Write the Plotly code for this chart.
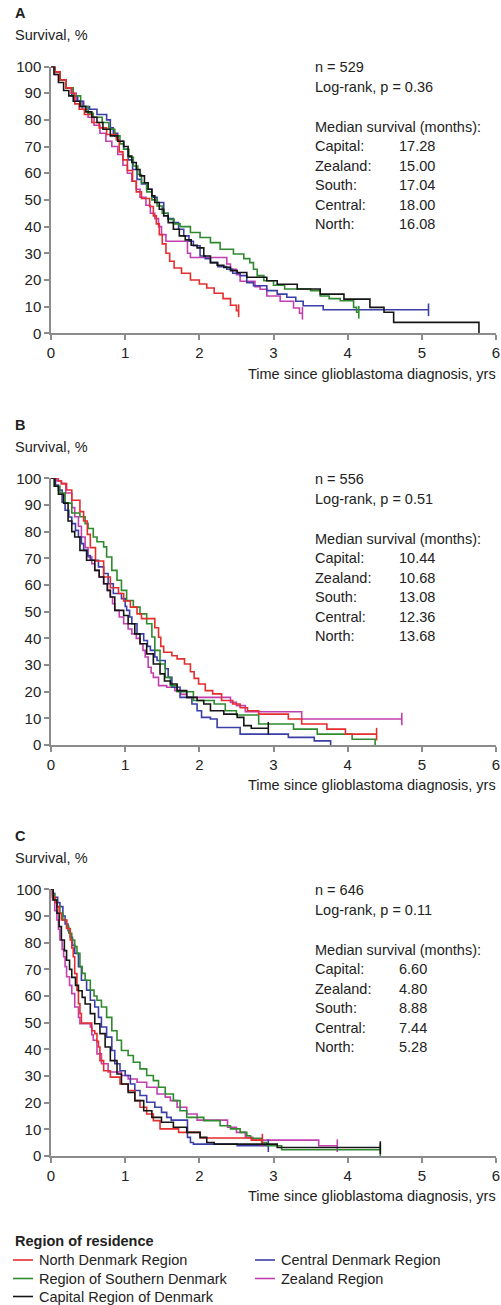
import plotly.graph_objects as go

# ---------------- data (times in years, survival in %) ----------------
REGIONS = ["North Denmark Region", "Region of Southern Denmark", "Capital Region of Denmark",
           "Central Denmark Region", "Zealand Region"]
PANELS = ["A", "B", "C"]
N_LABELS = ["n = 529", "n = 556", "n = 646"]
P_LABELS = ["Log-rank, p = 0.36", "Log-rank, p = 0.51", "Log-rank, p = 0.11"]
MEDIAN_NAMES = ["Capital:", "Zealand:", "South:", "Central:", "North:"]
MEDIAN_A = ["17.28", "15.00", "17.04", "18.00", "16.08"]
MEDIAN_B = ["10.44", "10.68", "13.08", "12.36", "13.68"]
MEDIAN_C = ["6.60", "4.80", "8.88", "7.44", "5.28"]
X_TICKS = [0, 1, 2, 3, 4, 5, 6]
Y_TICKS = [0, 10, 20, 30, 40, 50, 60, 70, 80, 90, 100]

# Panel A
A_NORTH_T = [0, 0.05, 0.12, 0.2, 0.28, 0.32, 0.38, 0.45, 0.55, 0.65, 0.75, 0.88, 0.92, 0.97, 1.03, 1.10, 1.15,
             1.22, 1.33, 1.38, 1.42, 1.46, 1.50, 1.55, 1.60, 1.66, 1.76, 1.88, 2.00, 2.10, 2.20, 2.32, 2.42, 2.50, 2.53]
A_NORTH_S = [100, 98, 95, 92, 90, 86, 84, 82, 79, 77, 74.5, 72.5, 68, 65, 61, 57, 53,
             50.5, 47.5, 44, 41, 37, 33.5, 30, 27, 24.5, 22.5, 20, 18.5, 17, 15, 13, 10.5, 8.5, 8.5]
A_SOUTH_T = [0, 0.05, 0.12, 0.2, 0.3, 0.4, 0.5, 0.57, 0.69, 0.78, 0.86, 0.93, 0.98, 1.05, 1.11, 1.17, 1.22, 1.29,
             1.36, 1.43, 1.50, 1.58, 1.66, 1.74, 1.88, 2.01, 2.15, 2.28, 2.46, 2.60, 2.68, 2.73, 2.78, 2.87, 3.00,
             3.15, 3.50, 3.63, 3.75, 3.90, 4.08, 4.12, 4.15]
A_SOUTH_S = [100, 98, 95, 92, 89, 85, 82.5, 81, 79, 76.5, 74, 71, 69, 66, 62.7, 59.5, 56.4, 53,
             50, 47.7, 45, 42.7, 41, 40, 37.8, 35.9, 34, 31.5, 29.7, 28, 26.5, 24, 21.6, 19.7, 18,
             16.6, 16, 14, 13, 12.2, 9.7, 7.9, 7.9]
A_CAPITAL_T = [0, 0.04, 0.1, 0.17, 0.24, 0.3, 0.39, 0.47, 0.55, 0.62, 0.7, 0.8, 0.9, 0.98, 1.04, 1.09, 1.15, 1.2,
               1.26, 1.31, 1.36, 1.4, 1.46, 1.52, 1.58, 1.65, 1.73, 1.81, 1.89, 1.97, 2.06, 2.15, 2.24, 2.33, 2.42,
               2.51, 2.64, 2.91, 3.05, 3.32, 3.63, 3.95, 4.3, 4.49, 4.62, 5.77, 5.77]
A_CAPITAL_S = [100, 97, 94, 91, 89, 87, 85, 83, 81, 79, 76.5, 74, 72, 70, 66.4, 64, 61.4, 59,
               56.4, 54, 51.5, 49, 46.5, 44, 41.5, 39, 36.5, 35, 33, 32, 29, 26.5, 25.5, 24.7, 23.5,
               22.8, 21, 19.7, 18.4, 16.6, 14.7, 12.8, 9.7, 7.9, 4.1, 4.1, 0]
A_CENTRAL_T = [0, 0.05, 0.12, 0.2, 0.28, 0.36, 0.44, 0.52, 0.62, 0.75, 0.8, 0.84, 0.9, 0.98, 1.04, 1.1, 1.16, 1.22,
               1.29, 1.36, 1.43, 1.52, 1.58, 1.65, 1.72, 1.79, 1.86, 1.92, 2.01, 2.08, 2.15, 2.25, 2.37, 2.45, 2.55,
               2.64, 2.73, 2.91, 3.05, 3.18, 3.3, 3.4, 3.67, 5.09]
A_CENTRAL_S = [100, 98, 95, 92, 89, 87, 85, 84, 82, 80, 77, 75, 72, 69, 65, 61.4, 57.7, 56,
               54, 51, 49, 45, 43, 41.5, 39, 36.5, 34.5, 32.8, 29, 28, 26.5, 25, 24, 22.5, 21.6,
               19, 17.8, 16, 14.7, 13.5, 12, 10.3, 8.8, 8.8]
A_ZEALAND_T = [0, 0.05, 0.12, 0.2, 0.27, 0.34, 0.42, 0.5, 0.58, 0.66, 0.74, 0.82, 0.9, 0.97, 1.03, 1.09, 1.15, 1.2,
               1.28, 1.34, 1.40, 1.45, 1.49, 1.55, 1.84, 1.88, 2.37, 2.42, 2.50, 2.55, 2.75, 2.82, 2.91, 3.09, 3.27,
               3.35, 3.39]
A_ZEALAND_S = [100, 97, 95, 92, 90, 87, 84, 81, 78, 75, 72, 70, 67, 63, 60, 57, 54, 51,
               48, 45, 43, 40, 37, 34.5, 30, 28.4, 26, 24, 22, 19.5, 17.5, 16.5, 14, 12, 9.5,
               7.5, 7.5]

# Panel B
B_NORTH_T = [0, 0.10, 0.14, 0.21, 0.28, 0.39, 0.44, 0.49, 0.53, 0.60, 0.71, 0.80, 0.91, 0.98, 1.07, 1.16, 1.22,
             1.40, 1.45, 1.48, 1.52, 1.63, 1.70, 1.80, 1.88, 1.93, 1.99, 2.08, 2.18, 2.30, 2.45, 2.55, 2.65, 2.80,
             3.20, 3.38, 3.72, 3.97, 4.39]
B_NORTH_S = [100, 99, 98, 95.6, 91.8, 87.5, 84, 79, 74, 69, 63, 59, 56.8, 54, 51.7, 49.2, 47.4,
             44, 40.4, 37, 34.8, 33.5, 32.3, 30.4, 27.5, 25, 22.9, 20.4, 19.2, 16.7, 15.4, 14, 12.9, 11.6,
             9.8, 7.9, 6.0, 4.1, 4.1]
B_SOUTH_T = [0, 0.04, 0.12, 0.19, 0.28, 0.39, 0.46, 0.5, 0.57, 0.62, 0.71, 0.75, 0.82, 0.89, 0.95, 1.02, 1.11, 1.2,
             1.29, 1.36, 1.4, 1.47, 1.54, 1.61, 1.7, 1.92, 2.2, 2.35, 2.5, 2.8, 3.27, 3.59, 4.06, 4.37, 4.37]
B_SOUTH_S = [100, 97, 94.5, 90.7, 87, 85.6, 83, 81.2, 78, 76.2, 74.3, 70.5, 65.5, 61.8, 58, 54.2, 51.7, 49.2,
             45.5, 40.5, 35.5, 30.4, 25.4, 22.3, 20, 16.7, 15.4, 12.9, 11.3, 7.9, 6.0, 4.1, 2.2, 2.2, 0]
B_CAPITAL_T = [0, 0.05, 0.1, 0.17, 0.23, 0.28, 0.32, 0.39, 0.48, 0.59, 0.65, 0.71, 0.76, 0.8, 0.86, 0.98, 1.04,
               1.13, 1.2, 1.29, 1.38, 1.47, 1.53, 1.61, 1.7, 1.83, 1.97, 2.06, 2.15, 2.33, 2.51, 2.6, 2.7, 2.93]
B_CAPITAL_S = [100, 97, 94, 90.7, 84, 80, 78, 73, 69.3, 65.5, 63, 60.5, 58, 55.5, 50.5, 48.6, 45.5,
               41.7, 38, 34.2, 30.4, 26.7, 24, 22.9, 20.4, 17.9, 16.7, 15.4, 12.9, 11.6, 10.4, 7.3, 6.3, 6.3]
B_CENTRAL_T = [0, 0.06, 0.1, 0.15, 0.19, 0.24, 0.28, 0.33, 0.37, 0.41, 0.44, 0.49, 0.53, 0.64, 0.71, 0.77, 0.84,
               0.95, 1.0, 1.02, 1.06, 1.09, 1.16, 1.25, 1.3, 1.34, 1.4, 1.43, 1.54, 1.58, 1.63, 1.74, 1.9, 1.97,
               2.03, 2.15, 2.24, 2.55, 3.2, 3.55, 3.77, 3.77]
B_CENTRAL_S = [100, 97.5, 95.6, 91, 88, 85.5, 83, 80.5, 78, 75.5, 73, 71, 69.3, 66.8, 64.3, 60.5, 56.8,
               54.9, 52, 50.5, 48, 45.5, 41.7, 39.2, 37, 35.5, 33, 31.7, 28.6, 25.4, 21.7, 17.9, 15.4, 12.9,
               10.4, 9.8, 6.6, 4.1, 2.9, 1.6, 1.6, 0]
B_ZEALAND_T = [0, 0.08, 0.14, 0.2, 0.28, 0.32, 0.37, 0.41, 0.46, 0.5, 0.55, 0.59, 0.65, 0.71, 0.76, 0.8, 0.83,
               0.86, 0.92, 0.98, 1.04, 1.09, 1.15, 1.2, 1.24, 1.27, 1.31, 1.35, 1.38, 1.45, 1.56, 1.67, 1.75,
               1.83, 2.42, 2.50, 2.62, 3.38, 4.73]
B_ZEALAND_S = [100, 99, 98, 94.5, 89, 85.6, 82, 78, 74, 70.5, 68, 65.5, 63, 60.5, 58, 55.5, 53,
               50.5, 48, 45.5, 43.5, 41.7, 40, 38, 35.5, 33, 29.2, 27, 25.4, 22.3, 21.7, 20.4, 19,
               17.9, 16, 14.8, 12.5, 9.8, 9.8]

# Panel C
C_NORTH_T = [0, 0.02, 0.06, 0.08, 0.11, 0.14, 0.21, 0.26, 0.28, 0.3, 0.32, 0.35, 0.37, 0.39, 0.41, 0.55, 0.59,
             0.62, 0.64, 0.66, 0.71, 0.8, 0.93, 1.04, 1.13, 1.2, 1.29, 1.38, 1.47, 1.72, 2.01, 2.70, 2.85]
C_NORTH_S = [100, 97, 95, 93.5, 91, 88.5, 85.3, 81, 78, 74.7, 68.4, 62.2, 57.1, 53.4, 49.9, 47, 45.9,
             43, 40.9, 35.8, 32, 29.6, 27, 24.6, 20.8, 18.3, 15.8, 13.3, 10.2, 8.9, 6.8, 6.0, 6.0]
C_SOUTH_T = [0, 0.02, 0.05, 0.08, 0.12, 0.16, 0.21, 0.24, 0.28, 0.32, 0.35, 0.39, 0.42, 0.46, 0.53, 0.58, 0.62,
             0.68, 0.75, 0.82, 0.89, 0.95, 1.04, 1.11, 1.2, 1.29, 1.38, 1.45, 1.54, 1.65, 1.74, 1.83, 2.06, 2.28,
             2.42, 2.55, 2.64, 2.69, 2.84, 2.91, 3.11, 4.44]
C_SOUTH_S = [100, 98, 96, 93.5, 91, 88.5, 86, 83.5, 81, 78.5, 76, 71, 68.5, 65.9, 62.2, 60, 58.4,
             55.9, 52, 47, 43.4, 39.6, 37.7, 35.2, 32.7, 30.2, 28.3, 25.8, 23.3, 20.8, 17, 14.5, 13.3, 11.4,
             10.2, 8.9, 7.6, 6.7, 5.1, 3.9, 2.4, 2.4]
C_CAPITAL_T = [0, 0.03, 0.08, 0.11, 0.14, 0.18, 0.21, 0.25, 0.28, 0.33, 0.37, 0.42, 0.46, 0.53, 0.59, 0.66, 0.73,
               0.8, 0.89, 0.95, 1.04, 1.13, 1.25, 1.36, 1.49, 1.65, 1.83, 2.01, 2.1, 2.2, 3.05, 4.44]
C_CAPITAL_S = [100, 96, 91, 86, 81, 77, 73.4, 70, 67, 64, 62, 59.5, 57, 53.4, 49.6, 45.9, 40.9,
               35.8, 30.8, 27, 23.9, 20.8, 17, 14.5, 12.7, 10.8, 8.9, 7, 5.1, 4.5, 3.2, 3.2]
C_CENTRAL_T = [0, 0.03, 0.05, 0.09, 0.12, 0.16, 0.19, 0.23, 0.26, 0.29, 0.32, 0.37, 0.41, 0.48, 0.53, 0.59, 0.64,
               0.68, 0.75, 0.82, 0.86, 0.93, 1.0, 1.07, 1.13, 1.2, 1.29, 1.4, 1.49, 1.56, 1.62, 1.84, 1.88, 1.92,
               2.51, 2.93]
C_CENTRAL_S = [100, 98.5, 97, 95, 93.5, 90, 87, 84.5, 82, 79, 76, 71, 65.9, 62.2, 58.4, 55.9, 52,
               48.4, 44.6, 39.6, 34.6, 32, 30.2, 27, 24.6, 22.7, 20.2, 18.3, 16.4, 14.5, 13.5, 7, 5.1, 4.5,
               3.9, 3.9]
C_ZEALAND_T = [0, 0.02, 0.05, 0.08, 0.1, 0.12, 0.15, 0.17, 0.19, 0.21, 0.25, 0.28, 0.32, 0.37, 0.39, 0.53, 0.55,
               0.57, 0.62, 0.68, 0.77, 0.95, 1.04, 1.16, 1.29, 1.43, 1.54, 1.61, 1.7, 1.83, 1.97, 2.38, 2.5, 2.62,
               2.72, 3.61, 3.86]
C_ZEALAND_S = [100, 96, 92, 88.5, 85, 81, 77.5, 74.7, 71, 67.2, 64, 60.9, 55.9, 52, 49.6, 48.4, 45.5,
               43.4, 38.3, 34.6, 31.5, 30.2, 28.9, 27.7, 25.8, 23.3, 22.1, 20.8, 18.3, 15.8, 13.5, 10.8, 8.9, 7,
               6.0, 3.9, 3.9]

SERIES = {
    "A": [(A_NORTH_T, A_NORTH_S), (A_SOUTH_T, A_SOUTH_S), (A_CAPITAL_T, A_CAPITAL_S),
          (A_CENTRAL_T, A_CENTRAL_S), (A_ZEALAND_T, A_ZEALAND_S)],
    "B": [(B_NORTH_T, B_NORTH_S), (B_SOUTH_T, B_SOUTH_S), (B_CAPITAL_T, B_CAPITAL_S),
          (B_CENTRAL_T, B_CENTRAL_S), (B_ZEALAND_T, B_ZEALAND_S)],
    "C": [(C_NORTH_T, C_NORTH_S), (C_SOUTH_T, C_SOUTH_S), (C_CAPITAL_T, C_CAPITAL_S),
          (C_CENTRAL_T, C_CENTRAL_S), (C_ZEALAND_T, C_ZEALAND_S)],
}
MEDIANS = [MEDIAN_A, MEDIAN_B, MEDIAN_C]

# ---------------- style / layout ----------------
COLORS = ["#e42d2d", "#2f8a2f", "#151515", "#3a3ea6", "#c23fae"]
DRAW_ORDER = [4, 3, 1, 0, 2]
FONT = "Liberation Sans, Arial, Helvetica, sans-serif"
TXT = "#222222"
AX = "#8c8c8c"
W, H = 501, 1305
ML, MR = 51, 5
PW = W - ML - MR


def px2x(px):
    return (px - ML) / PW


def py2y(py):
    return 1 - py / H


TOPS = [66.5, 478.3, 889.3]
PH = 266.8

fig = go.Figure()
annotations = []
shapes = []

for k, panel in enumerate(PANELS):
    top = TOPS[k]
    xa = "x" if k == 0 else f"x{k + 1}"
    ya = "y" if k == 0 else f"y{k + 1}"
    for idx in DRAW_ORDER:
        t, s = SERIES[panel][idx]
        fig.add_trace(go.Scatter(
            x=t, y=s, mode="lines", line=dict(color=COLORS[idx], width=1.6, shape="hv"),
            name=REGIONS[idx], showlegend=False, xaxis=xa, yaxis=ya, hoverinfo="skip"))
        if s[-1] > 0:
            fig.add_trace(go.Scatter(
                x=[t[-1]], y=[s[-1]], mode="markers",
                marker=dict(symbol="line-ns", size=9, line=dict(color=COLORS[idx], width=1.6)),
                showlegend=False, xaxis=xa, yaxis=ya, hoverinfo="skip", cliponaxis=False))

    dom = [py2y(top + PH), py2y(top)]
    axx = dict(range=[0, 6], tickvals=X_TICKS, showline=True, linecolor=AX, linewidth=1.5,
               ticks="outside", ticklen=5, tickwidth=1.5, tickcolor=AX, showgrid=False, zeroline=False,
               tickfont=dict(size=15, color=TXT, family=FONT), anchor=ya, domain=[0, 1], automargin=False)
    axy = dict(range=[0, 100], tickvals=Y_TICKS, showline=True, linecolor=AX, linewidth=1.5,
               ticks="outside", ticklen=5, tickwidth=1.5, tickcolor=AX, showgrid=False, zeroline=False,
               tickfont=dict(size=15, color=TXT, family=FONT), anchor=xa, domain=dom, automargin=False)
    fig.update_layout({("xaxis" if k == 0 else f"xaxis{k + 1}"): axx,
                       ("yaxis" if k == 0 else f"yaxis{k + 1}"): axy})

    def txt(text, xpx, ypx, size=14.5, bold=False, anchor="left"):
        annotations.append(dict(
            text=f"<b>{text}</b>" if bold else text, x=px2x(xpx), y=py2y(ypx), xref="paper", yref="paper",
            xanchor=anchor, yanchor="middle", showarrow=False,
            font=dict(size=size, color=TXT, family=FONT)))

    txt(panel, 13, top - 53.5, size=14.5, bold=True)
    txt("Survival, %", 13, top - 31.5)
    txt("Time since glioblastoma diagnosis, yrs", 498, top + 307, anchor="right")
    txt(N_LABELS[k], 313, top + 0.8)
    txt(P_LABELS[k], 313, top + 20.3)
    txt("Median survival (months):", 313, top + 60.2)
    for j, nm in enumerate(MEDIAN_NAMES):
        txt(nm, 313, top + 79.8 + 19.5 * j)
        txt(MEDIANS[k][j], 397, top + 79.8 + 19.5 * j)

# ---------------- legend (drawn manually) ----------------
annotations.append(dict(text="<b>Region of residence</b>", x=px2x(13), y=py2y(1241), xref="paper",
                        yref="paper", xanchor="left", yanchor="middle", showarrow=False,
                        font=dict(size=14.5, color=TXT, family=FONT)))
LEG_POS = [(13, 1260), (13, 1278.5), (13, 1296.5), (255, 1260), (255, 1278.5)]
for idx, (lx, ly) in enumerate(LEG_POS):
    shapes.append(dict(type="line", xref="paper", yref="paper", x0=px2x(lx), x1=px2x(lx + 20),
                       y0=py2y(ly), y1=py2y(ly), line=dict(color=COLORS[idx], width=1.6)))
    annotations.append(dict(text=REGIONS[idx], x=px2x(lx + 24), y=py2y(ly), xref="paper", yref="paper",
                            xanchor="left", yanchor="middle", showarrow=False,
                            font=dict(size=14.5, color=TXT, family=FONT)))

fig.update_layout(
    width=W, height=H, margin=dict(l=ML, r=MR, t=0, b=0, pad=0, autoexpand=False),
    paper_bgcolor="white", plot_bgcolor="white", showlegend=False,
    annotations=annotations, shapes=shapes, font=dict(family=FONT, color=TXT),
)

fig.write_html(
    "out.html",
    config={"displayModeBar": False},
    post_script="document.body.style.margin='0';document.body.style.padding='0';"
                "document.body.style.overflow='hidden';",
)
